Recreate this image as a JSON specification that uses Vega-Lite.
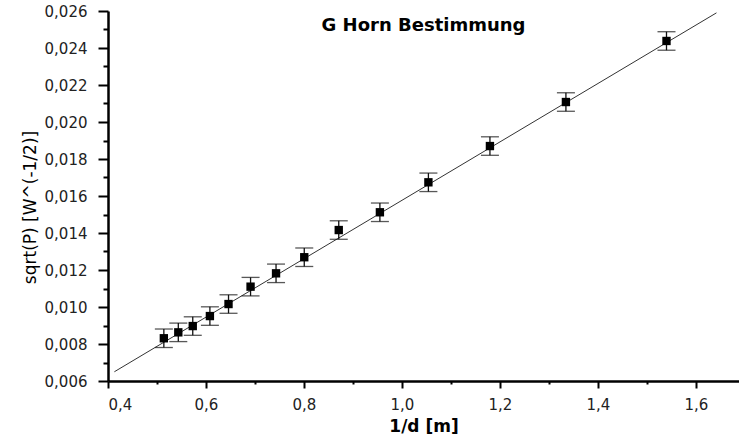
{
  "$schema": "https://vega.github.io/schema/vega-lite/v6.json",
  "width": 631,
  "height": 370,
  "autosize": "none",
  "padding": {"left": 108, "top": 11, "right": 0, "bottom": 65},
  "background": "white",
  "title": {
    "text": "G Horn Bestimmung",
    "font": "DejaVu Sans",
    "fontSize": 18,
    "fontWeight": "bold",
    "color": "#000000",
    "anchor": "middle",
    "baseline": "top",
    "offset": -31
  },
  "datasets": {
    "pts": [
      {"x": 0.514, "y": 0.00831, "lo": 0.00781, "hi": 0.00881},
      {"x": 0.5435, "y": 0.00863, "lo": 0.00813, "hi": 0.00913},
      {"x": 0.573, "y": 0.00897, "lo": 0.00847, "hi": 0.00947},
      {"x": 0.608, "y": 0.00951, "lo": 0.00901, "hi": 0.01001},
      {"x": 0.646, "y": 0.01016, "lo": 0.00966, "hi": 0.01066},
      {"x": 0.691, "y": 0.0111, "lo": 0.0106, "hi": 0.0116},
      {"x": 0.743, "y": 0.01182, "lo": 0.01132, "hi": 0.01232},
      {"x": 0.8006, "y": 0.01269, "lo": 0.01219, "hi": 0.01319},
      {"x": 0.871, "y": 0.01416, "lo": 0.01366, "hi": 0.01466},
      {"x": 0.955, "y": 0.01512, "lo": 0.01462, "hi": 0.01562},
      {"x": 1.054, "y": 0.01674, "lo": 0.01624, "hi": 0.01724},
      {"x": 1.1796, "y": 0.0187, "lo": 0.0182, "hi": 0.0192},
      {"x": 1.3347, "y": 0.02108, "lo": 0.02058, "hi": 0.02158},
      {"x": 1.54, "y": 0.02438, "lo": 0.02388, "hi": 0.02488}
    ],
    "fit": [
      {"x": 0.413, "y": 0.0065},
      {"x": 1.642, "y": 0.0259}
    ]
  },
  "layer": [
    {
      "data": {"name": "fit"},
      "mark": {"type": "line", "color": "#333333", "strokeWidth": 1},
      "encoding": {
        "x": {
          "field": "x", "type": "quantitative",
          "scale": {"domain": [0.4, 1.688], "nice": false, "zero": false},
          "axis": {
            "title": "1/d [m]",
            "values": [0.4, 0.5, 0.6, 0.7, 0.8, 0.9, 1.0, 1.1, 1.2, 1.3, 1.4, 1.5, 1.6],
            "tickCount": 50,
            "labelExpr": "round(datum.value*10)%2==0 ? replace(format(datum.value,'.1f'),'.',',') : ''",
            "tickSize": {"condition": {"test": "round(datum.value*10)%2==0", "value": 7}, "value": 3},
            "labelOverlap": false,
            "labelPadding": 9,
            "titlePadding": 6
          }
        },
        "y": {
          "field": "y", "type": "quantitative",
          "scale": {"domain": [0.006, 0.026], "nice": false, "zero": false},
          "axis": {
            "title": "sqrt(P) [W^(-1/2)]",
            "values": [0.006, 0.007, 0.008, 0.009, 0.01, 0.011, 0.012, 0.013, 0.014, 0.015, 0.016, 0.017, 0.018, 0.019, 0.02, 0.021, 0.022, 0.023, 0.024, 0.025, 0.026],
            "tickCount": 50,
            "labelExpr": "round(datum.value*1000)%2==0 ? replace(format(datum.value,'.3f'),'.',',') : ''",
            "tickSize": {"condition": {"test": "round(datum.value*1000)%2==0", "value": 10}, "value": 5},
            "labelOverlap": false,
            "labelPadding": 11,
            "titlePadding": 5,
            "titleY": 196
          }
        }
      }
    },
    {
      "data": {"name": "pts"},
      "mark": {"type": "rule", "color": "#111111", "strokeWidth": 1.3},
      "encoding": {
        "x": {"field": "x", "type": "quantitative"},
        "y": {"field": "lo", "type": "quantitative"},
        "y2": {"field": "hi"}
      }
    },
    {
      "data": {"name": "pts"},
      "mark": {"type": "tick", "orient": "horizontal", "size": 18, "thickness": 1.3, "color": "#111111"},
      "encoding": {
        "x": {"field": "x", "type": "quantitative"},
        "y": {"field": "lo", "type": "quantitative"}
      }
    },
    {
      "data": {"name": "pts"},
      "mark": {"type": "tick", "orient": "horizontal", "size": 18, "thickness": 1.3, "color": "#111111"},
      "encoding": {
        "x": {"field": "x", "type": "quantitative"},
        "y": {"field": "hi", "type": "quantitative"}
      }
    },
    {
      "data": {"name": "pts"},
      "mark": {"type": "square", "size": 70, "color": "#000000", "opacity": 1, "filled": true},
      "encoding": {
        "x": {"field": "x", "type": "quantitative"},
        "y": {"field": "y", "type": "quantitative"}
      }
    }
  ],
  "config": {
    "view": {"stroke": null},
    "axis": {
      "grid": false,
      "domainColor": "#000000",
      "domainWidth": 2.5,
      "tickColor": "#000000",
      "tickWidth": 2,
      "labelFont": "DejaVu Sans",
      "labelFontSize": 15,
      "labelColor": "#222222",
      "titleFont": "DejaVu Sans",
      "titleColor": "#000000"
    },
    "axisX": {"titleFontSize": 17, "titleFontWeight": "bold"},
    "axisY": {"titleFontSize": 17, "titleFontWeight": "normal"}
  }
}
